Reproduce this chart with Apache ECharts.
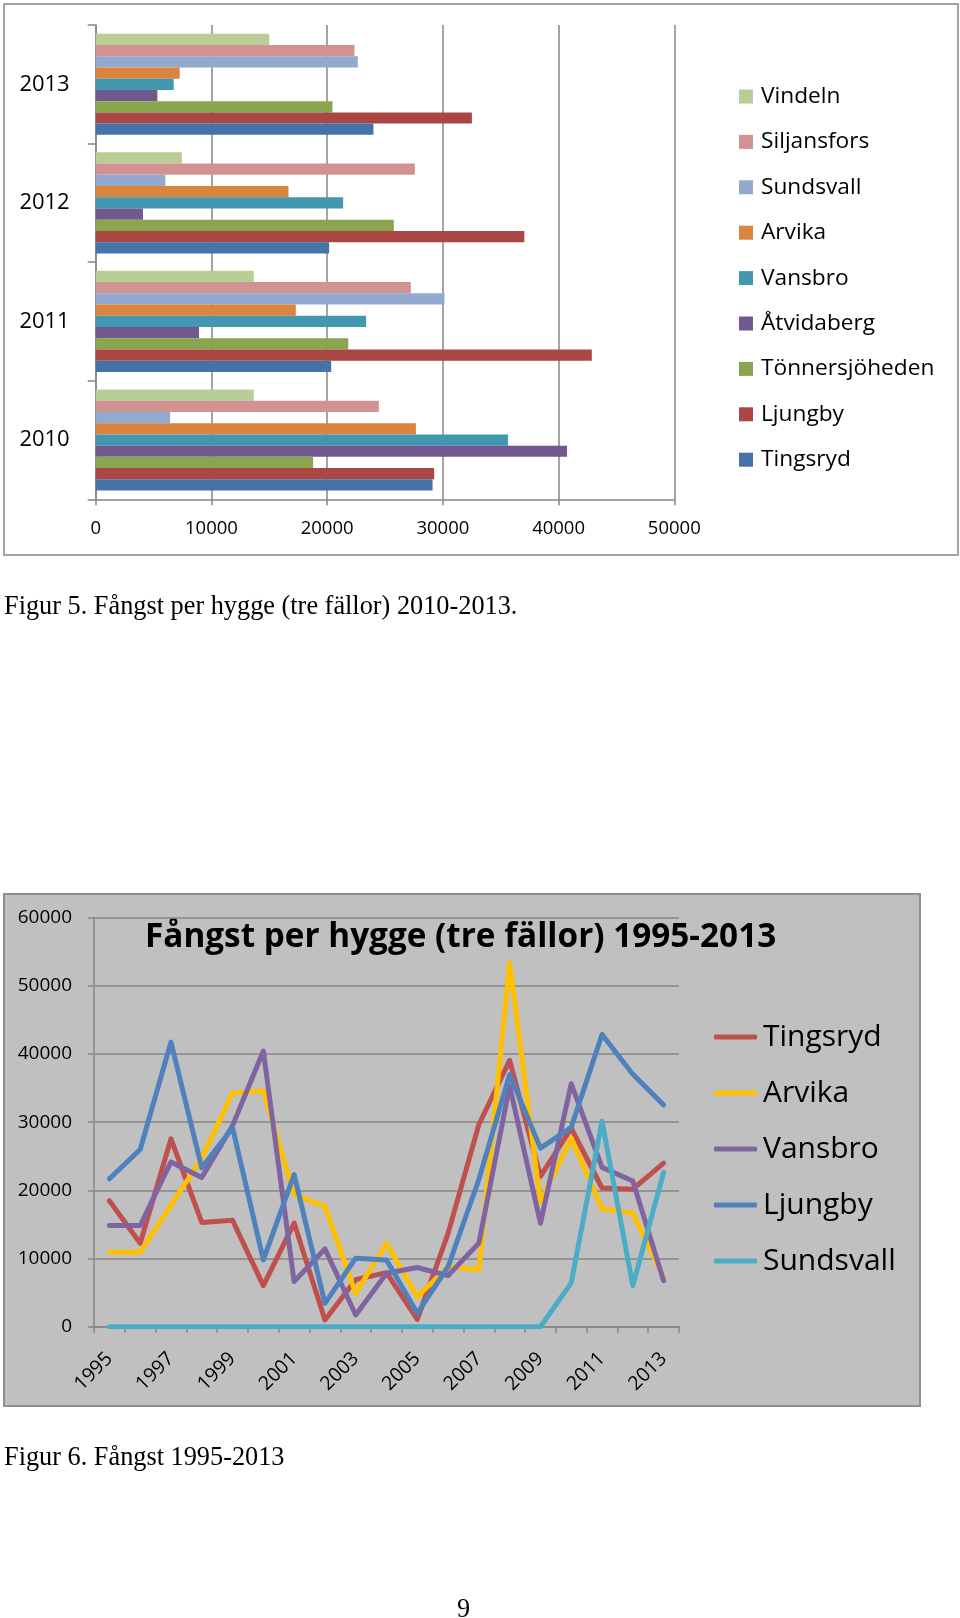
<!DOCTYPE html>
<html>
<head>
<meta charset="utf-8">
<script src="https://cdn.jsdelivr.net/npm/echarts@6/dist/echarts.min.js"></script>
<style>
html,body{margin:0;padding:0;background:#fff;}
#page{position:relative;width:960px;height:1618px;overflow:hidden;background:#fff;}
#box1{position:absolute;left:3px;top:3px;width:956px;height:553px;box-sizing:border-box;border:2px solid #a3a3a3;background:#fff;}
#box2{position:absolute;left:3px;top:893px;width:918px;height:514px;box-sizing:border-box;border:2px solid #8f8f8f;background:#c0c0c0;}
.chart{position:absolute;left:0;top:0;width:960px;height:1618px;}
.cap{position:absolute;font-family:'Liberation Serif','Times New Roman',serif;font-size:26.3px;line-height:30px;color:#000;white-space:nowrap;}
</style>
</head>
<body>
<div id="page">
  <div id="box1"></div>
  <div id="box2"></div>
  <div id="chart1" class="chart"></div>
  <div id="chart2" class="chart"></div>
  <div class="cap" style="left:4px;top:591px;">Figur 5. Fångst per hygge (tre fällor) 2010-2013.</div>
  <div class="cap" style="left:4px;top:1442px;">Figur 6. Fångst 1995-2013</div>
  <div class="cap" style="left:457px;top:1594px;">9</div>
</div>
<script>
// ---- Figure 5 data (bar chart) ----
const barYears = ['2010', '2011', '2012', '2013'];
const barNames = ['Vindeln', 'Siljansfors', 'Sundsvall', 'Arvika', 'Vansbro', 'Åtvidaberg', 'Tönnersjöheden', 'Ljungby', 'Tingsryd'];
const vindeln        = [13660, 13660, 7440, 15000];
const siljansfors    = [24470, 27230, 27580, 22360];
const sundsvallBar   = [6430, 30140, 6020, 22650];
const arvikaBar      = [27670, 17290, 16660, 7260];
const vansbroBar     = [35640, 23370, 21380, 6740];
const atvidaberg     = [40730, 8930, 4090, 5330];
const tonnersjoheden = [18790, 21820, 25760, 20460];
const ljungbyBar     = [29250, 42870, 37040, 32510];
const tingsrydBar    = [29110, 20350, 20170, 24000];
const barColors = ['#B9CD96', '#D19392', '#93A9CF', '#DB843D', '#4198AF', '#71588F', '#89A54E', '#AA4643', '#4572A7'];
const barTicks = [0, 10000, 20000, 30000, 40000, 50000];

// ---- Figure 6 data (line chart) ----
const lineYears = ['1995','1996','1997','1998','1999','2000','2001','2002','2003','2004','2005','2006','2007','2008','2009','2010','2011','2012','2013'];
const lineNames = ['Tingsryd', 'Arvika', 'Vansbro', 'Ljungby', 'Sundsvall'];
const tingsryd  = [18480, 12250, 27550, 15300, 15600, 6030, 15200, 980, 6900, 7940, 1080, 13700, 29660, 39070, 22060, 29110, 20350, 20170, 24000];
const arvika    = [10930, 10930, 17800, 24750, 34300, 34560, 19400, 17650, 4900, 12250, 4400, 8800, 8340, 53400, 18300, 27670, 17290, 16660, 7260];
const vansbro   = [14850, 14850, 24170, 21900, 29500, 40440, 6620, 11420, 1720, 7840, 8680, 7500, 12260, 35300, 15200, 35640, 23370, 21380, 6740];
const ljungby   = [21700, 26000, 41760, 23300, 29200, 9800, 22300, 3430, 10050, 9800, 1960, 8800, 21600, 37000, 26200, 29250, 42870, 37040, 32510];
const sundsvall = [0, 0, 0, 0, 0, 0, 0, 0, 0, 0, 0, 0, 0, 0, 0, 6430, 30140, 6020, 22650];
const lineColors = ['#C0504D', '#FFC000', '#8064A2', '#4F81BD', '#4BACC6'];
const lineTicks = [0, 10000, 20000, 30000, 40000, 50000, 60000];
const lineTitle = 'Fångst per hygge (tre fällor) 1995-2013';

const barData = [vindeln, siljansfors, sundsvallBar, arvikaBar, vansbroBar, atvidaberg, tonnersjoheden, ljungbyBar, tingsrydBar];
const lineData = [tingsryd, arvika, vansbro, ljungby, sundsvall];

const FONT = "'Open Sans', 'Noto Sans', sans-serif";
const GRID = '#868686';
const plain = v => String(v);

// ---------- Figure 5 ----------
const chart1 = echarts.init(document.getElementById('chart1'), null, {renderer: 'canvas'});
chart1.setOption({
  animation: false,
  backgroundColor: 'transparent',
  textStyle: {fontFamily: FONT},
  grid: {left: 95.7, top: 25, width: 578.6, height: 474.3, containLabel: false},
  xAxis: {
    type: 'value',
    min: barTicks[0], max: barTicks[barTicks.length - 1], interval: barTicks[1] - barTicks[0],
    axisLine: {show: true, lineStyle: {color: GRID, width: 1.5}},
    axisTick: {show: true, length: 6, lineStyle: {color: GRID, width: 1.5}},
    axisLabel: {fontSize: 18.5, color: '#000', margin: 20, fontFamily: FONT, formatter: plain},
    splitLine: {show: true, lineStyle: {color: GRID, width: 1.5}}
  },
  yAxis: {
    type: 'category', data: barYears,
    axisLine: {show: true, lineStyle: {color: GRID, width: 1.5}},
    axisTick: {show: true, length: 8, lineStyle: {color: GRID, width: 1.5}},
    axisLabel: {fontSize: 22, color: '#000', margin: 26, fontFamily: FONT},
    splitLine: {show: false}
  },
  legend: {
    data: barNames, orient: 'vertical', left: 739, top: 85, padding: 0,
    itemWidth: 14, itemHeight: 14, itemGap: 22.4, icon: 'rect',
    textStyle: {fontSize: 22.7, lineHeight: 23, color: '#000', fontFamily: FONT, padding: [0, 0, 0, 3]},
    selectedMode: false
  },
  series: barNames.map((n, i) => ({
    name: n, type: 'bar',
    data: barData[i], barGap: '0%', barCategoryGap: '14.7%',
    color: barColors[i], itemStyle: {color: barColors[i]}
  }))
});

// ---------- Figure 6 ----------
const chart2 = echarts.init(document.getElementById('chart2'), null, {renderer: 'canvas'});
chart2.setOption({
  animation: false,
  backgroundColor: 'transparent',
  textStyle: {fontFamily: FONT},
  grid: {left: 94, top: 917.7, width: 585, height: 409, containLabel: false},
  xAxis: {
    type: 'category', data: lineYears, boundaryGap: true,
    axisLine: {show: true, lineStyle: {color: GRID, width: 1.5}},
    axisTick: {show: true, interval: 0, length: 6, lineStyle: {color: GRID, width: 1.5}},
    axisLabel: {interval: 1, rotate: 45, fontSize: 19.5, color: '#000', margin: 29, fontFamily: FONT},
    splitLine: {show: false}
  },
  yAxis: {
    type: 'value',
    min: lineTicks[0], max: lineTicks[lineTicks.length - 1], interval: lineTicks[1] - lineTicks[0],
    axisLine: {show: true, lineStyle: {color: GRID, width: 1.5}},
    axisTick: {show: true, length: 6, lineStyle: {color: GRID, width: 1.5}},
    axisLabel: {fontSize: 19, color: '#000', margin: 22, fontFamily: FONT, formatter: plain},
    splitLine: {show: true, lineStyle: {color: GRID, width: 1.5}}
  },
  legend: {
    data: lineNames, orient: 'vertical', left: 714, top: 1022, padding: 0,
    itemWidth: 43, itemHeight: 5, itemGap: 26, icon: 'roundRect',
    textStyle: {fontSize: 30, lineHeight: 30, color: '#000', fontFamily: FONT, padding: [0, 0, 0, 1]},
    selectedMode: false
  },
  graphic: [
    {
      type: 'text', x: 145, y: 938,
      style: {
        text: lineTitle,
        font: "bold 33.3px 'Open Sans', 'Noto Sans', sans-serif",
        fill: '#000', align: 'left', verticalAlign: 'middle'
      }
    }
  ],
  series: lineNames.map((n, i) => ({
    name: n, type: 'line',
    data: lineData[i], showSymbol: false, symbol: 'none',
    color: lineColors[i],
    lineStyle: {width: 5, color: lineColors[i], cap: 'round', join: 'round'}
  }))
});
</script>
</body>
</html>
